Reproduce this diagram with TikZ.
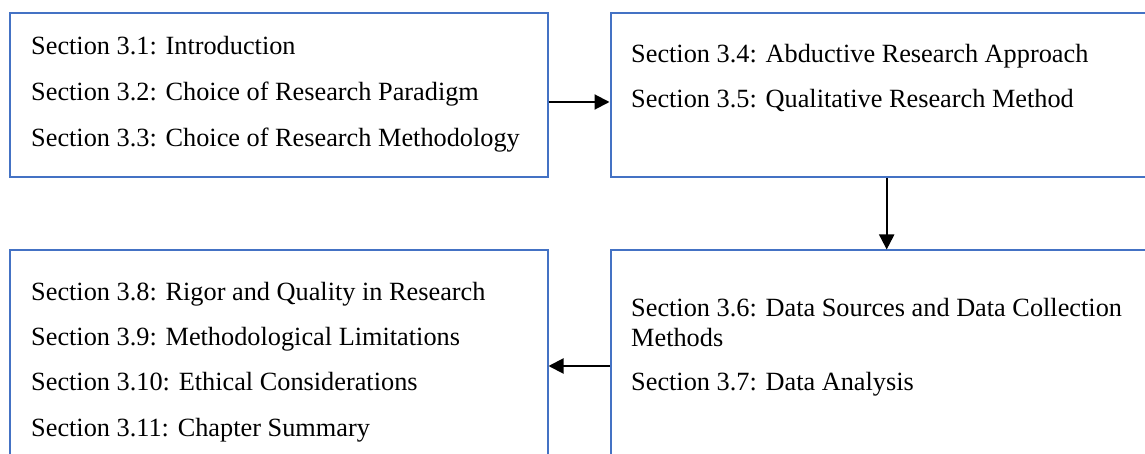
\documentclass[tikz,border=0pt]{standalone}
\usepackage{fontspec}
\setmainfont{Liberation Serif}
\usetikzlibrary{arrows.meta}
\definecolor{boxblue}{RGB}{68,114,196}
\tikzset{
  secbox/.style={draw=boxblue, line width=2pt, rectangle, inner sep=0pt, anchor=north west},
  sectext/.style={anchor=base west, inner sep=0pt, font=\fontsize{26.3}{30}\selectfont},
  arr/.style={draw=black, line width=2pt, -{Triangle[length=15pt,width=15pt]}}
}
\begin{document}
\begin{tikzpicture}[x=1pt,y=-1pt]
\useasboundingbox (0,0) rectangle (1145,454);
\clip (0,0) rectangle (1145,454);
% boxes
\node[secbox, minimum width=537.5pt, minimum height=164.5pt] (A) at (9,12) {};
\node[secbox, minimum width=545pt, minimum height=164pt] (B) at (609.5,12) {};
\node[secbox, minimum width=537.5pt, minimum height=230pt] (C) at (9,249.5) {};
\node[secbox, minimum width=545pt, minimum height=230pt] (D) at (609.5,249.5) {};
% texts
\node[sectext] (t31) at (31,55) {Section 3.1: Introduction};
\node[sectext] (t32) at (31,101) {Section 3.2: Choice of Research Paradigm};
\node[sectext] (t33) at (31,147) {Section 3.3: Choice of Research Methodology};
\node[sectext] (t34) at (631,62.7) {Section 3.4: Abductive Research Approach};
\node[sectext] (t35) at (631,107.5) {Section 3.5: Qualitative Research Method};
\node[sectext] (t36a) at (631,316) {Section 3.6: Data Sources and Data Collection};
\node[sectext] (t36b) at (631,346) {Methods};
\node[sectext] (t37) at (631,390) {Section 3.7: Data Analysis};
\node[sectext] (t38) at (31,300) {Section 3.8: Rigor and Quality in Research};
\node[sectext] (t39) at (31,345) {Section 3.9: Methodological Limitations};
\node[sectext] (t310) at (31,390.7) {Section 3.10: Ethical Considerations};
\node[sectext] (t311) at (31,436) {Section 3.11: Chapter Summary};
% connectors
\draw[arr] (A.east |- 0,102) -- (B.west |- 0,102);
\draw[arr] (B.south -| 886.7,0) -- (D.north -| 886.7,0);
\draw[arr] (D.west |- 0,366) -- (C.east |- 0,366);
\end{tikzpicture}
\end{document}
